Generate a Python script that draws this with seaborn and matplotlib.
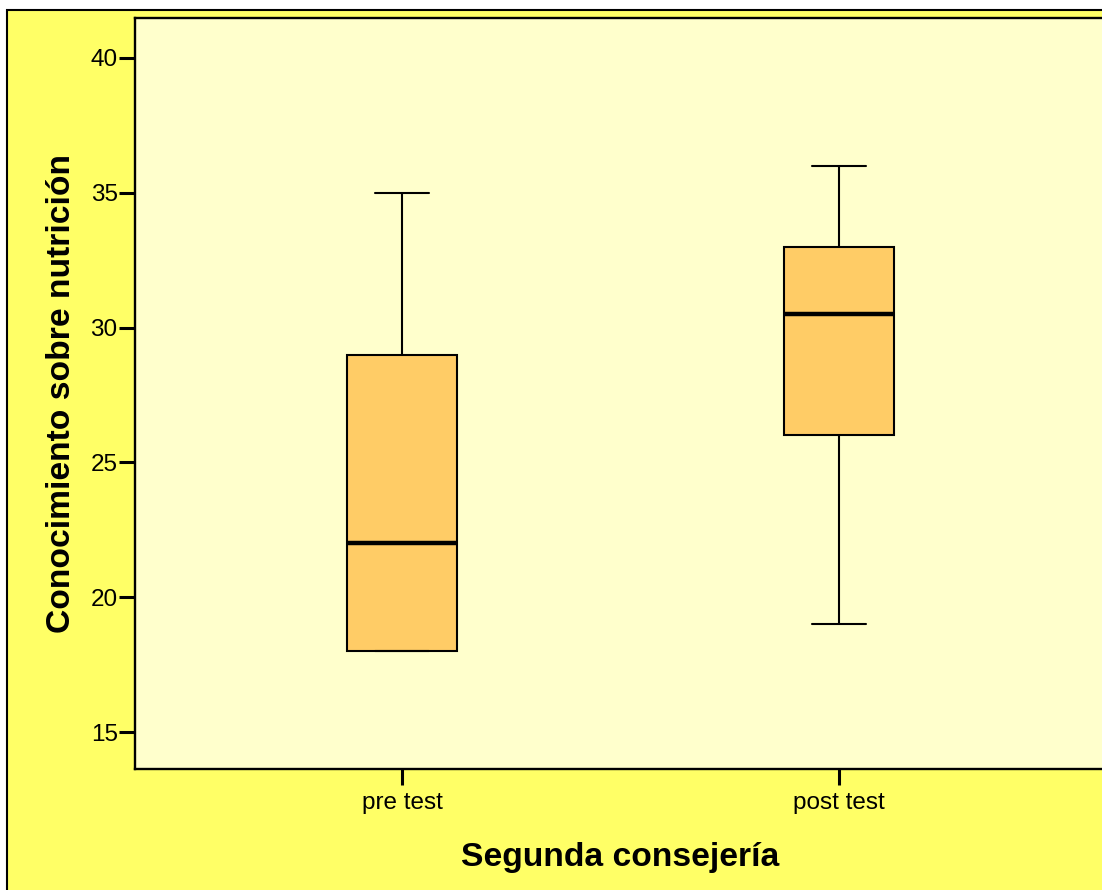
import numpy as np
import pandas as pd
import seaborn as sns
import matplotlib.pyplot as plt
from matplotlib.patches import Rectangle

# five number summaries (min, Q1, median, Q3, max)
grupos = ["pre test", "post test"]
pre_test = [18, 18, 22, 29, 35]
post_test = [19, 26, 30.5, 33, 36]

df = pd.DataFrame({
    "grupo": ["pre test"] * len(pre_test) + ["post test"] * len(post_test),
    "puntaje": pre_test + post_test,
})

sns.set_style("ticks")
plt.rcParams['font.family'] = ['Liberation Sans', 'DejaVu Sans']
plt.rcParams['text.color'] = 'black'
plt.rcParams['axes.labelcolor'] = 'black'
plt.rcParams['xtick.color'] = 'black'
plt.rcParams['ytick.color'] = 'black'

fig = plt.figure(figsize=(11.02, 8.9), dpi=100)
fig.patch.set_facecolor('white')
# yellow outer frame like the SPSS chart
frame = Rectangle((7/1102, -0.1), 1.2, 1.1 - 10/890, transform=fig.transFigure,
                  facecolor='#FFFF66', edgecolor='black', linewidth=1.5, zorder=-10)
fig.add_artist(frame)

ax = fig.add_axes([135/1102, 1 - 769/890, (1106 - 135)/1102, (769 - 18)/890])
ax.set_facecolor('#FFFFCC')

sns.boxplot(data=df, x="grupo", y="puntaje", order=grupos, ax=ax, whis=np.inf, width=0.25,
            color='#FFCC66', saturation=1, linewidth=1.5,
            boxprops=dict(edgecolor='black', linewidth=1.5),
            whiskerprops=dict(color='black', linewidth=1.5),
            capprops=dict(color='black', linewidth=1.5),
            medianprops=dict(color='black', linewidth=3.2))

ax.set_ylim(13.63, 41.48)
ax.set_xlim(-0.611, 1.611)
ax.set_yticks([15, 20, 25, 30, 35, 40])

for s in ['left', 'bottom', 'top']:
    ax.spines[s].set_linewidth(1.7)
    ax.spines[s].set_color('black')
ax.spines['right'].set_visible(False)

ax.tick_params(axis='y', length=11.5, width=2.2, labelsize=17.5, pad=1, colors='black')
ax.tick_params(axis='x', length=11.5, width=2.2, labelsize=17.5, pad=5, colors='black')

ax.set_xlabel("Segunda consejería", fontsize=24.2, fontweight='bold', labelpad=20, color='black')
ax.set_ylabel("Conocimiento sobre nutrición", fontsize=24.2, fontweight='bold', labelpad=10, color='black')

fig.savefig("out.png", dpi=100)
